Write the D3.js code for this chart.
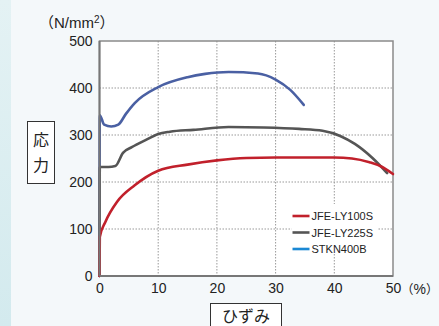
<!DOCTYPE html>
<html>
<head>
<meta charset="utf-8">
<script src="https://cdn.jsdelivr.net/npm/d3@7"></script>
<style>
  body { margin: 0; background: #f4f8fa; }
  svg { display: block; }
</style>
</head>
<body>
<div class="chart"></div>
<script>
// strain (%) / stress (N/mm2)
const seriesNames = ["JFE-LY100S", "JFE-LY225S", "STKN400B"]

const ly100sX = [0, 0.05, 1, 3, 6, 10, 15, 20, 25, 30, 35, 40, 43, 46, 48, 50]
const ly100sY = [0, 83, 115, 158, 193, 224, 237, 246, 251, 252, 252, 252, 250, 242, 233, 217]

const ly225sX = [0, 0.05, 1.5, 2.7, 4, 5.5, 8, 10, 12, 16, 22, 28, 34, 38, 41, 43.5, 46.5, 49]
const ly225sY = [0, 232, 232, 234, 262, 274, 290, 302, 307, 311, 317, 316, 313, 309, 298, 281, 251, 219]

const stknX = [0, 0.05, 0.8, 2, 3.2, 4.5, 6, 10, 15, 18, 22, 27, 30, 32.5, 34.8]
const stknY = [0, 342, 322, 318, 322, 345, 368, 402, 423, 430, 434, 431, 418, 396, 364]

const xTicks = [0, 10, 20, 30, 40, 50]
const yTicks = [0, 100, 200, 300, 400, 500]

const lineColors = ["#c1202b", "#555555", "#4a60a3"]
const legendColors = ["#c1202b", "#555555", "#1a88d4"]

const latin = "'Liberation Sans', Arial, sans-serif"
const cjk = "'Noto Sans CJK JP', sans-serif"

let dimensions = {
    width: 439,
    height: 326,
    margin: { top: 41, right: 46, bottom: 50, left: 99.5 }
}
dimensions.boundedWidth = 393 - dimensions.margin.left
dimensions.boundedHeight = 276 - dimensions.margin.top

const wrapper = d3.select(".chart")
    .append("svg")
    .attr("width", dimensions.width)
    .attr("height", dimensions.height)
    .style("font-family", latin)

// background: teal strip on the left, pale panel
const grad = wrapper.append("defs").append("linearGradient")
    .attr("id", "strip").attr("x1", 0).attr("y1", 0).attr("x2", 0).attr("y2", 1)
grad.append("stop").attr("offset", "0%").attr("stop-color", "#e4f2f4")
grad.append("stop").attr("offset", "100%").attr("stop-color", "#d3eaee")
wrapper.append("rect").attr("width", dimensions.width).attr("height", dimensions.height).attr("fill", "#f4f8fa")
wrapper.append("rect").attr("width", 11).attr("height", dimensions.height).attr("fill", "url(#strip)")

const bounds = wrapper.append("g")
    .attr("transform", `translate(${dimensions.margin.left},${dimensions.margin.top})`)

const xScale = d3.scaleLinear().domain([0, 50]).range([0, dimensions.boundedWidth])
const yScale = d3.scaleLinear().domain([0, 500]).range([dimensions.boundedHeight, 0])

bounds.append("rect")
    .attr("width", dimensions.boundedWidth)
    .attr("height", dimensions.boundedHeight)
    .attr("fill", "#fff")

// dotted grid
bounds.append("g")
    .selectAll("line")
    .data(xTicks.slice(1, -1))
    .enter()
    .append("line")
    .attr("x1", d => xScale(d)).attr("x2", d => xScale(d))
    .attr("y1", 0).attr("y2", dimensions.boundedHeight)
    .attr("stroke", "#999").attr("stroke-dasharray", "1.5,1.5")
bounds.append("g")
    .selectAll("line")
    .data(yTicks.slice(1, -1))
    .enter()
    .append("line")
    .attr("y1", d => yScale(d)).attr("y2", d => yScale(d))
    .attr("x1", 0).attr("x2", dimensions.boundedWidth)
    .attr("stroke", "#999").attr("stroke-dasharray", "1.5,1.5")

// frame
bounds.append("rect")
    .attr("width", dimensions.boundedWidth)
    .attr("height", dimensions.boundedHeight)
    .attr("fill", "none")
    .attr("stroke", "#8a8a8a")
    .attr("stroke-width", 1.5)

// legend background
const legend = bounds.append("g").attr("transform", "translate(192,163)")
legend.append("rect").attr("x", 0).attr("y", 0).attr("width", 86).attr("height", 50).attr("fill", "#fff")

// curves (blue under gray under red, like the picture)
const line = d3.line()
    .x(d => xScale(d[0]))
    .y(d => yScale(d[1]))
    .curve(d3.curveMonotoneX)

const series = [
    d3.zip(ly100sX, ly100sY),
    d3.zip(ly225sX, ly225sY),
    d3.zip(stknX, stknY)
]
const order = [2, 1, 0]
bounds.selectAll(".curve")
    .data(order)
    .enter()
    .append("path")
    .attr("class", "curve")
    .attr("d", i => line(series[i]))
    .attr("fill", "none")
    .attr("stroke", i => lineColors[i])
    .attr("stroke-width", 2.6)
    .attr("stroke-linejoin", "round")
    .attr("stroke-linecap", "round")

// left and bottom axis lines
bounds.append("line")
    .attr("x1", 0).attr("x2", 0).attr("y1", 0).attr("y2", dimensions.boundedHeight)
    .attr("stroke", "#777").attr("stroke-width", 2)
bounds.append("line")
    .attr("x1", 0).attr("x2", dimensions.boundedWidth).attr("y1", dimensions.boundedHeight).attr("y2", dimensions.boundedHeight)
    .attr("stroke", "#777").attr("stroke-width", 2)

// tick labels
const xAxis = bounds.append("g")
    .attr("transform", `translate(0,${dimensions.boundedHeight})`)
    .call(d3.axisBottom(xScale).tickValues(xTicks).tickSize(0).tickPadding(7))
xAxis.select(".domain").remove()
xAxis.selectAll("text").attr("font-size", 14).attr("fill", "#222").attr("font-family", latin)

const yAxis = bounds.append("g")
    .call(d3.axisLeft(yScale).tickValues(yTicks).tickSize(0).tickPadding(7))
yAxis.select(".domain").remove()
yAxis.selectAll("text").attr("font-size", 14).attr("fill", "#222").attr("font-family", latin)

// legend entries
seriesNames.forEach((name, i) => {
    const gy = 12 + i * 16.5
    legend.append("line")
        .attr("x1", 1).attr("x2", 18).attr("y1", gy).attr("y2", gy)
        .attr("stroke", legendColors[i]).attr("stroke-width", 2.6)
    legend.append("text")
        .attr("x", 20).attr("y", gy + 4)
        .attr("font-size", 11)
        .attr("font-family", "'Liberation Sans Narrow', 'Liberation Sans', Arial, sans-serif")
        .attr("fill", "#222")
        .text(name)
})

// units
const unitY = wrapper.append("text")
    .attr("x", 39).attr("y", 28)
    .attr("font-size", 15).attr("fill", "#222")
unitY.append("tspan").attr("font-family", cjk).text("（")
unitY.append("tspan").attr("font-family", latin).text("N/mm")
unitY.append("tspan").attr("font-family", latin).attr("font-size", 10).attr("dy", -5).text("2")
unitY.append("tspan").attr("font-family", cjk).attr("dy", 5).text("）")

const unitX = wrapper.append("text")
    .attr("x", 401).attr("y", 293.5)
    .attr("font-size", 12.5).attr("fill", "#222")
unitX.append("tspan").attr("font-family", cjk).text("（")
unitX.append("tspan").attr("font-family", latin).attr("font-size", 14).text("%")
unitX.append("tspan").attr("font-family", cjk).text("）")

// boxed axis titles
wrapper.append("rect")
    .attr("x", 27.5).attr("y", 121.5).attr("width", 27).attr("height", 62)
    .attr("fill", "#fff").attr("stroke", "#333").attr("stroke-width", 1)
wrapper.append("text")
    .attr("x", 41).attr("y", 146)
    .attr("text-anchor", "middle")
    .attr("font-size", 16).attr("fill", "#222")
    .attr("font-family", cjk)
    .text("応")
wrapper.append("text")
    .attr("x", 41).attr("y", 171)
    .attr("text-anchor", "middle")
    .attr("font-size", 16).attr("fill", "#222")
    .attr("font-family", cjk)
    .text("力")

wrapper.append("rect")
    .attr("x", 210.5).attr("y", 303.5).attr("width", 71).attr("height", 30)
    .attr("fill", "#fff").attr("stroke", "#333").attr("stroke-width", 1)
wrapper.append("text")
    .attr("x", 246).attr("y", 322)
    .attr("text-anchor", "middle")
    .attr("font-size", 16).attr("fill", "#222")
    .attr("font-family", cjk)
    .text("ひずみ")
</script>
</body>
</html>
